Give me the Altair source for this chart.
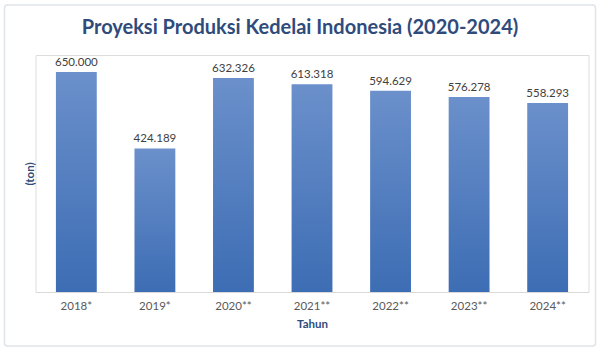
import altair as alt
import pandas as pd

years = ["2018*", "2019*", "2020**", "2021**", "2022**", "2023**", "2024**"]
produksi = [650000, 424189, 632326, 613318, 594629, 576278, 558293]
title_text = "Proyeksi Produksi Kedelai Indonesia (2020-2024)"

df = pd.DataFrame({"tahun": years, "produksi": produksi})

W, H = 553, 237

base = alt.Chart(df).encode(
    x=alt.X("tahun:N", sort=years, title="Tahun",
            scale=alt.Scale(paddingInner=0.48, paddingOuter=0.26),
            axis=alt.Axis(labelAngle=0, ticks=False, domainColor="#d9d9d9",
                          labelColor="#595959", labelFontSize=11.5, labelPadding=8,
                          labelFont="Lato", titleFont="Lato", titleFontSize=11.5,
                          titleColor="#2f4b7c", titleFontWeight="bold", titlePadding=7)),
    y=alt.Y("produksi:Q", title="(ton)", scale=alt.Scale(domain=[0, 700000], nice=False),
            axis=alt.Axis(labels=False, ticks=False, domain=False, grid=False,
                          titleFont="Lato", titleFontSize=11.5, titleColor="#2f4b7c",
                          titleFontWeight="bold", titlePadding=0)),
)

bars = base.mark_bar(
    color=alt.Gradient(
        gradient="linear",
        stops=[alt.GradientStop(color="#6b90cb", offset=0),
               alt.GradientStop(color="#3d6db4", offset=1)],
        x1=0, x2=0, y1=0, y2=1,
    )
)

labels = base.mark_text(baseline="bottom", dy=-4, font="Lato", fontSize=11.5,
                        color="#404040").transform_calculate(
    lbl="replace(format(datum.produksi, ','), /,/g, '.')"
).encode(text="lbl:N")

one = alt.Data(values=[{"t": title_text}])

border = alt.Chart(one).mark_rect(
    fill="transparent", stroke="#dfe4ea", strokeWidth=1.5, cornerRadius=3
).encode(
    x=alt.value(-31), x2=alt.value(560),
    y=alt.value(-50), y2=alt.value(291),
)

title = alt.Chart(one).mark_text(
    font="Lato", fontSize=20, fontWeight="bold", color="#2f4b7c",
    align="center", baseline="middle"
).encode(text="t:N", x=alt.value(264.5), y=alt.value(-27))

chart = alt.layer(border, title, bars, labels).properties(
    width=W, height=H,
    autosize=alt.AutoSizeParams(type="none"),
    padding={"left": 35.5, "top": 55, "right": 11.5, "bottom": 59},
).configure_view(stroke=None).configure(background="white")

chart.save("out.html", embed_options={"renderer": "svg", "actions": False})
